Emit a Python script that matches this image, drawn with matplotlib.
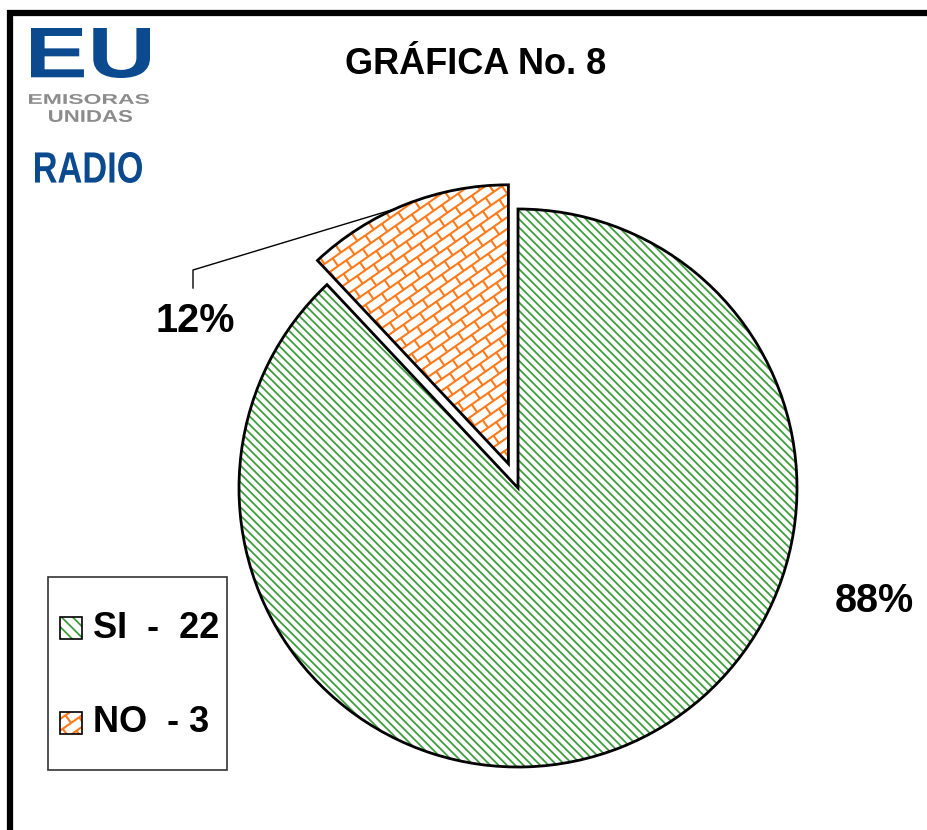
import numpy as np
import matplotlib
matplotlib.use("Agg")
import matplotlib.pyplot as plt
from matplotlib.patches import Rectangle, PathPatch
from matplotlib.collections import LineCollection
from matplotlib.textpath import TextPath
from matplotlib.font_manager import FontProperties
from matplotlib.transforms import Affine2D

# data
categories = ["SI", "NO"]
counts = [22, 3]
legend_labels = ["SI  -  22", "NO  - 3"]
title = "GRÁFICA No. 8"

W, H = 928, 830
GREEN = "#3f9c3f"
ORANGE = "#ff7a1a"
BLUE = "#0b4a8e"
GREY = "#8c8c8c"
FONT = "Liberation Sans"

plt.rcParams["hatch.linewidth"] = 1.3


def fit_text(ax, s, box, color):
    '''Draws text s stretched into box (x0, y0, x1, y1) given in image pixels'''
    x0, y0, x1, y1 = box
    tp = TextPath((0, 0), s, size=100, prop=FontProperties(family=FONT, weight="bold"))
    bb = tp.get_extents()
    tr = (Affine2D().translate(-bb.x0, -bb.y0)
          .scale((x1 - x0) / bb.width, (y1 - y0) / bb.height)
          .translate(x0, H - y1))
    ax.add_patch(PathPatch(tr.transform_path(tp), fc=color, ec="none"))


def brick_segments(cx, cy, extent, ang, w, h):
    '''Line segments of a rotated brick pattern around (cx, cy)'''
    segs = []
    nrows = int(extent / h) + 1
    ncols = int(extent / w) + 1
    for k in range(-nrows, nrows + 1):
        v = k * h
        segs.append([(-extent, v), (extent, v)])
        for j in range(-ncols, ncols + 1):
            u = j * w + (k % 2) * w / 2
            segs.append([(u, v), (u, v + h)])
    c, s = np.cos(np.radians(ang)), np.sin(np.radians(ang))
    out = []
    for seg in segs:
        out.append([(cx + c * u - s * v, cy + s * u + c * v) for u, v in seg])
    return out


fig = plt.figure(figsize=(W / 100, H / 100), dpi=100)
ax = fig.add_axes([0, 0, 1, 1])

# outer frame
ax.add_patch(Rectangle((10.5, -20), 960, H - 13 + 20, fill=False, ec="black", lw=4.5, zorder=5))

# pie (explode is in data units here, since radius is in pixels)
center = (518, H - 488)
radius = 279
explode = [0, 26]
fills, _ = ax.pie(counts, startangle=90, counterclock=False, center=center, radius=radius,
                  explode=explode, wedgeprops=dict(lw=0), frame=True)
fills[0].set_facecolor("white")
fills[0].set_edgecolor(GREEN)
fills[0].set_hatch("\\" * 4)
fills[1].set_facecolor("white")
fills[1].set_edgecolor("white")

bricks = LineCollection(brick_segments(center[0], center[1], 340, 35, 20, 9.5),
                        colors=ORANGE, lw=1.5, zorder=2)
ax.add_collection(bricks)
bricks.set_clip_path(fills[1])

outlines, _ = ax.pie(counts, startangle=90, counterclock=False, center=center, radius=radius,
                     explode=explode, wedgeprops=dict(fill=False, ec="black", lw=2, zorder=3),
                     frame=True)
ax.set_xlim(0, W)
ax.set_ylim(0, H)
ax.axis("off")

# percentage labels
total = sum(counts)
pcts = [f"{round(c / total * 100)}%" for c in counts]
ax.text(874, H - 601, pcts[0], ha="center", va="center", fontsize=28.5,
        fontweight="bold", family=FONT)
ax.text(195, H - 321, pcts[1], ha="center", va="center", fontsize=28.5,
        fontweight="bold", family=FONT)

# leader line to the NO slice
w = outlines[1]
th = np.radians(114)
arc_pt = (w.center[0] + radius * np.cos(th), w.center[1] + radius * np.sin(th))
ax.plot([193, 193, arc_pt[0]], [H - 288, H - 270, arc_pt[1]], color="black", lw=1, zorder=4)

# title
ax.text(476, H - 65, title, ha="center", va="center", fontsize=26,
        fontweight="bold", family=FONT)

# legend
ax.add_patch(Rectangle((48, H - 770), 179, 193, fill=False, ec="#333333", lw=1.2, zorder=4))
handle_y = [628, 723]
for i, lab in enumerate(legend_labels):
    yc = H - handle_y[i]
    if i == 0:
        hb = Rectangle((60, yc - 11), 22, 22, fc="white", ec=GREEN, lw=0, hatch="\\" * 3, zorder=4)
        ax.add_patch(hb)
    else:
        hb = Rectangle((60, yc - 11), 22, 22, fc="white", ec="white", lw=0, zorder=4)
        ax.add_patch(hb)
        lc = LineCollection(brick_segments(71, yc, 40, 35, 20, 9.5), colors=ORANGE, lw=1.5, zorder=4.5)
        ax.add_collection(lc)
        lc.set_clip_path(hb)
    ax.add_patch(Rectangle((60, yc - 11), 22, 22, fill=False, ec="black", lw=1.2, zorder=5))
    ax.text(93, yc, lab, ha="left", va="center", fontsize=26, fontweight="bold", family=FONT, zorder=6)

# logo
fit_text(ax, "EU", (31, 28, 150, 78), BLUE)
fit_text(ax, "EMISORAS", (29, 94, 149, 104), GREY)
fit_text(ax, "UNIDAS", (49, 110, 132, 122), GREY)
fit_text(ax, "RADIO", (35, 152, 142, 183), BLUE)

fig.savefig("out.png", dpi=100)
